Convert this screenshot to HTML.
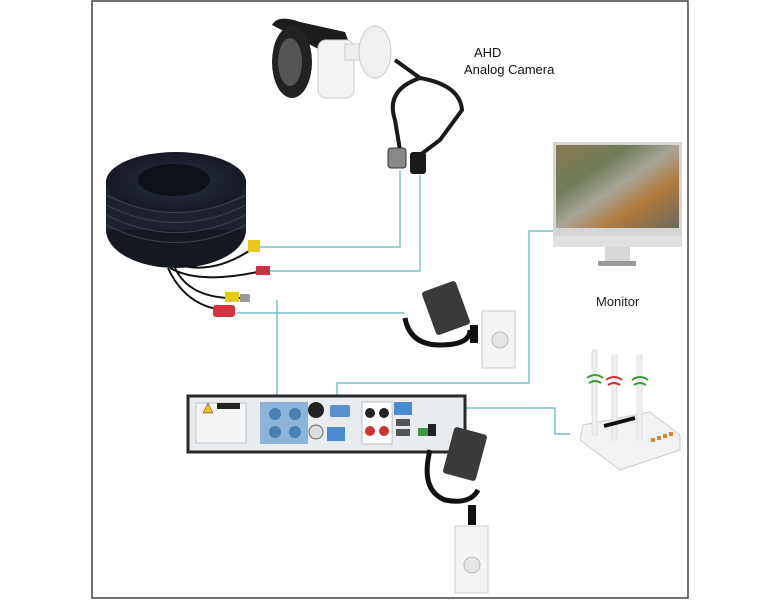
<!DOCTYPE html>
<html><head><meta charset="utf-8"><style>
html,body{margin:0;padding:0;background:#fff}
svg{display:block}
text{font-family:"Liberation Sans",sans-serif}
</style></head><body>
<svg width="780" height="600" viewBox="0 0 780 600" xmlns="http://www.w3.org/2000/svg">
<defs>
<linearGradient id="scr" x1="0" y1="0" x2="1" y2="1">
<stop offset="0" stop-color="#8a7a52"/><stop offset="0.3" stop-color="#6f7c55"/>
<stop offset="0.5" stop-color="#a8a59a"/><stop offset="0.7" stop-color="#b07a3a"/><stop offset="1" stop-color="#6a6a60"/>
</linearGradient>
<radialGradient id="coil" cx="0.5" cy="0.5" r="0.5">
<stop offset="0" stop-color="#2a3040"/><stop offset="1" stop-color="#151a24"/>
</radialGradient>
</defs>
<rect x="92" y="1" width="596" height="597" fill="#fff" stroke="#444" stroke-width="1.5"/>

<!-- connectors -->
<g stroke="#5fb4c2" stroke-width="1.2" fill="none">
<polyline points="258,247 400,247 400,170"/>
<polyline points="265,271 420,271 420,175"/>
<polyline points="237,313 404,313"/>
<polyline points="277,300 277,400"/>
<polyline points="553,231 529,231 529,383 337,383 337,400"/>
<polyline points="408,408 555,408 555,434 570,434"/>
</g>

<!-- camera -->
<path d="M272,25 Q278,14 300,22 L345,32 L352,50 L330,55 Z" fill="#1c1c1c"/>
<rect x="318" y="40" width="36" height="58" rx="8" fill="#f2f2f2" stroke="#ccc"/>
<ellipse cx="292" cy="62" rx="20" ry="36" fill="#222"/>
<ellipse cx="290" cy="62" rx="12" ry="24" fill="#555"/>
<rect x="345" y="44" width="22" height="16" fill="#eee" stroke="#ccc"/>
<ellipse cx="375" cy="52" rx="16" ry="26" fill="#f0f0f0" stroke="#ccc"/>
<path d="M395,60 L420,78 Q460,85 462,110 L440,140 L420,155 M420,78 Q385,90 395,120 L400,150" stroke="#1a1a1a" stroke-width="4" fill="none"/>
<rect x="388" y="148" width="18" height="20" rx="3" fill="#888" stroke="#333"/>
<rect x="410" y="152" width="16" height="22" rx="3" fill="#1a1a1a"/>
<text x="474" y="57" font-size="13" fill="#111">AHD</text>
<text x="464" y="74" font-size="13" fill="#111">Analog Camera</text>

<!-- coil -->
<ellipse cx="176" cy="230" rx="70" ry="38" fill="#141820"/>
<rect x="106" y="180" width="140" height="50" fill="#1d222d"/>
<ellipse cx="176" cy="182" rx="70" ry="30" fill="url(#coil)"/>
<ellipse cx="174" cy="180" rx="36" ry="16" fill="#0e1118"/>
<g stroke="#3a4152" stroke-width="1" fill="none">
<path d="M106,195 Q176,230 246,195"/><path d="M106,205 Q176,240 246,205"/><path d="M106,215 Q176,250 246,215"/><path d="M106,225 Q176,260 246,225"/>
</g>
<path d="M180,265 Q215,275 255,247 M170,268 Q200,285 262,271 M175,268 Q190,300 240,298 M168,268 Q185,305 222,310" stroke="#111" stroke-width="2" fill="none"/>
<rect x="248" y="240" width="12" height="12" fill="#e8c81a"/><rect x="256" y="266" width="14" height="9" fill="#d03040"/>
<rect x="225" y="292" width="14" height="10" fill="#e8c81a"/><rect x="240" y="294" width="10" height="8" fill="#999"/>
<rect x="213" y="305" width="22" height="12" rx="3" fill="#d83040"/>

<!-- monitor -->
<rect x="553" y="142" width="129" height="95" fill="#d5d5d5"/>
<rect x="556" y="145" width="123" height="83" fill="url(#scr)"/>
<rect x="553" y="236" width="129" height="11" fill="#e0e0e0"/>
<rect x="605" y="247" width="25" height="14" fill="#d8d8d8"/>
<rect x="598" y="261" width="38" height="5" fill="#999"/>
<text x="596" y="306" font-size="13" fill="#222">Monitor</text>

<!-- adapter 1 + socket -->
<rect x="428" y="285" width="36" height="46" rx="3" fill="#3a3a3a" transform="rotate(-20 446 308)"/>
<path d="M405,318 Q410,345 440,345 Q470,345 470,330" stroke="#111" stroke-width="5" fill="none"/>
<rect x="482" y="311" width="33" height="57" fill="#f4f4f4" stroke="#ccc"/>
<circle cx="500" cy="340" r="8" fill="#e6e6e6" stroke="#bbb"/>
<rect x="470" y="325" width="8" height="18" fill="#111"/>

<!-- DVR -->
<rect x="188" y="396" width="277" height="56" fill="#e8ecef" stroke="#2a2a2a" stroke-width="3"/>
<rect x="196" y="403" width="50" height="40" fill="#f5f5f5" stroke="#999" stroke-width="0.5"/>
<polygon points="203,413 208,403 213,413" fill="#f0c020" stroke="#333" stroke-width="0.5"/>
<rect x="217" y="403" width="23" height="6" fill="#222"/>
<rect x="260" y="402" width="48" height="42" fill="#8cb4d8"/>
<g fill="#4a7fb0"><circle cx="275" cy="414" r="6"/><circle cx="295" cy="414" r="6"/><circle cx="275" cy="432" r="6"/><circle cx="295" cy="432" r="6"/></g>
<circle cx="316" cy="410" r="8" fill="#222"/>
<circle cx="316" cy="432" r="7" fill="#ddd" stroke="#666"/>
<rect x="330" y="405" width="20" height="12" rx="2" fill="#5a8fd0"/>
<rect x="327" y="427" width="18" height="14" fill="#4a8ad0"/>
<rect x="362" y="402" width="30" height="42" fill="#fff" stroke="#888" stroke-width="0.5"/>
<g><circle cx="370" cy="413" r="5" fill="#222"/><circle cx="384" cy="413" r="5" fill="#222"/><circle cx="370" cy="431" r="5" fill="#c33"/><circle cx="384" cy="431" r="5" fill="#c33"/></g>
<rect x="394" y="402" width="18" height="13" fill="#4a8ad0"/>
<rect x="396" y="419" width="14" height="7" fill="#555"/><rect x="396" y="429" width="14" height="7" fill="#555"/>
<rect x="418" y="428" width="10" height="8" fill="#3a9a4a"/><rect x="428" y="424" width="8" height="12" fill="#222"/>

<!-- adapter 2 + socket -->
<rect x="448" y="430" width="34" height="48" rx="3" fill="#3a3a3a" transform="rotate(15 465 454)"/>
<path d="M430,450 Q420,490 445,500 Q470,505 478,490" stroke="#111" stroke-width="5" fill="none"/>
<rect x="455" y="526" width="33" height="67" fill="#f4f4f4" stroke="#ccc"/>
<circle cx="472" cy="565" r="8" fill="#e6e6e6" stroke="#bbb"/>
<rect x="468" y="505" width="8" height="20" fill="#111"/>

<!-- router -->
<polygon points="583,425 650,412 680,435 680,450 620,470 580,440" fill="#f2f2f2" stroke="#ccc"/>
<rect x="592" y="350" width="5" height="85" fill="#eee" stroke="#ccc" stroke-width="0.5"/>
<rect x="612" y="355" width="5" height="85" fill="#eee" stroke="#ccc" stroke-width="0.5"/>
<rect x="637" y="355" width="5" height="85" fill="#eee" stroke="#ccc" stroke-width="0.5"/>
<g fill="none" stroke-width="2">
<path d="M587,378 Q595,372 603,378 M589,383 Q595,379 601,383" stroke="#3a9a3a"/>
<path d="M606,380 Q614,374 622,380 M608,385 Q614,381 620,385" stroke="#d03030"/>
<path d="M632,380 Q640,374 648,380 M634,385 Q640,381 646,385" stroke="#3a9a3a"/>
</g>
<path d="M604,426 L635,418" stroke="#111" stroke-width="4"/>
<g fill="#d0883a"><rect x="651" y="438" width="4" height="4"/><rect x="657" y="436" width="4" height="4"/><rect x="663" y="434" width="4" height="4"/><rect x="669" y="432" width="4" height="4"/></g>
</svg>
</body></html>
